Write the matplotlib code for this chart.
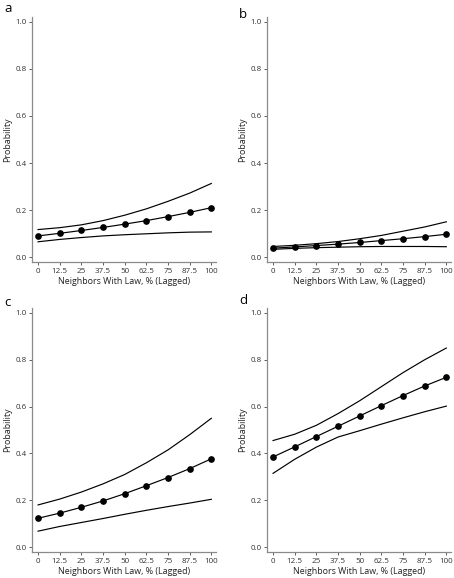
import matplotlib
matplotlib.use("Agg")
import matplotlib.pyplot as plt

plt.rcParams['font.family'] = ['Open Sans', 'DejaVu Sans']

x_vals = [0, 12.5, 25, 37.5, 50, 62.5, 75, 87.5, 100]
x_ticklabels = ["0", "12.5", "25", "37.5", "50", "62.5", "75", "87.5", "100"]
y_ticks = [0.0, 0.2, 0.4, 0.6, 0.8, 1.0]
y_ticklabels = ["0.0", "0.2", "0.4", "0.6", "0.8", "1.0"]
panel_labels = ["a", "b", "c", "d"]

mean_a = [0.090, 0.101, 0.113, 0.126, 0.140, 0.155, 0.172, 0.190, 0.210]
upper_a = [0.117, 0.125, 0.137, 0.155, 0.178, 0.205, 0.237, 0.272, 0.313]
lower_a = [0.065, 0.075, 0.083, 0.090, 0.095, 0.099, 0.103, 0.106, 0.107]

mean_b = [0.038, 0.043, 0.049, 0.055, 0.062, 0.070, 0.078, 0.087, 0.097]
upper_b = [0.045, 0.050, 0.057, 0.066, 0.078, 0.092, 0.110, 0.128, 0.150]
lower_b = [0.033, 0.037, 0.040, 0.042, 0.044, 0.045, 0.045, 0.045, 0.044]

mean_c = [0.123, 0.145, 0.170, 0.197, 0.228, 0.262, 0.297, 0.335, 0.377]
upper_c = [0.180, 0.205, 0.235, 0.270, 0.310, 0.360, 0.415, 0.480, 0.550]
lower_c = [0.068, 0.088, 0.105, 0.122, 0.140, 0.157, 0.173, 0.188, 0.204]

mean_d = [0.385, 0.428, 0.472, 0.516, 0.560, 0.604, 0.647, 0.688, 0.725]
upper_d = [0.455, 0.482, 0.520, 0.570, 0.625, 0.685, 0.745, 0.800, 0.850]
lower_d = [0.315, 0.375, 0.427, 0.470, 0.497, 0.525, 0.552, 0.578, 0.602]

panels = [(mean_a, upper_a, lower_a), (mean_b, upper_b, lower_b),
          (mean_c, upper_c, lower_c), (mean_d, upper_d, lower_d)]

W, H = 454, 578
fig = plt.figure(figsize=(W / 100, H / 100), dpi=100)

# axes boxes in pixels: (left, top, right, bottom)
boxes = [(32, 17, 216, 262), (267, 17, 451, 262),
         (32, 308, 216, 552), (267, 308, 451, 552)]
label_pos = [(4, 8), (239, 14), (4, 303), (239, 300)]

spine_col = "#8a8a8a"
for i, (box, data) in enumerate(zip(boxes, panels)):
    l, t, r, b = box
    ax = fig.add_axes([l / W, 1 - b / H, (r - l) / W, (b - t) / H])
    m, u, lo = data
    ax.plot(x_vals, u, color="black", lw=0.85)
    ax.plot(x_vals, lo, color="black", lw=0.85)
    ax.plot(x_vals, m, color="black", lw=0.85, marker="o", ms=3.8)
    ax.set_xlim(-3.5, 102.7)
    ax.set_ylim(-0.021, 1.021)
    ax.set_xticks(x_vals)
    ax.set_xticklabels(x_ticklabels)
    ax.set_yticks(y_ticks)
    ax.set_yticklabels(y_ticklabels)
    for s in ["top", "right"]:
        ax.spines[s].set_visible(False)
    for s in ["left", "bottom"]:
        ax.spines[s].set_color(spine_col)
        ax.spines[s].set_linewidth(0.9)
    ax.tick_params(axis="both", length=2.5, width=0.6, color="#444444",
                   labelsize=5.8, pad=1.5, labelcolor="#333333")
    ax.set_xlabel("Neighbors With Law, % (Lagged)", fontsize=6.4, labelpad=1.5, color="#222222")
    ax.set_ylabel("Probability", fontsize=6.4, labelpad=2.5, color="#222222")
    fig.text(label_pos[i][0] / W, 1 - label_pos[i][1] / H, panel_labels[i],
             fontsize=9.5, va="center", ha="left", color="black")

fig.savefig("out.png", dpi=100)
